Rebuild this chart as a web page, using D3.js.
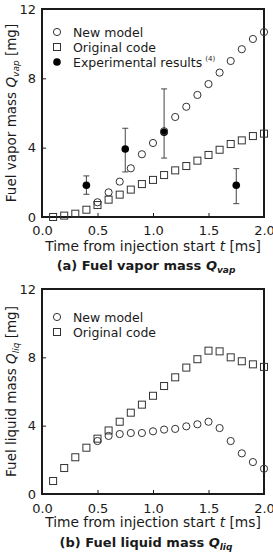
<!DOCTYPE html>
<html>
<head>
<meta charset="utf-8">
<script src="https://cdn.jsdelivr.net/npm/d3@7"></script>
<style>
  body { margin: 0; background: #fff; }
  svg text { font-family: "DejaVu Sans", sans-serif; fill: #1a1a1a; }
</style>
</head>
<body>
<div id="chart"></div>
<script>
// data
const times = [0.1, 0.2, 0.3, 0.4, 0.5, 0.6, 0.7, 0.8, 0.9, 1.0, 1.1, 1.2, 1.3, 1.4, 1.5, 1.6, 1.7, 1.8, 1.9, 2.0]
const vaporOriginal = [0.0, 0.08, 0.19, 0.42, 0.69, 1.0, 1.29, 1.58, 1.9, 2.14, 2.42, 2.69, 2.94, 3.25, 3.58, 3.88, 4.21, 4.42, 4.67, 4.81]
const vaporNew = [null, null, null, null, 0.85, 1.42, 2.04, 2.81, 3.62, 4.27, 4.95, 5.77, 6.36, 7.04, 7.67, 8.33, 9.0, 9.68, 10.27, 10.67]
const expTimes = [0.4, 0.75, 1.1, 1.75]
const expValues = [1.83, 3.92, 4.89, 1.83]
const expLow = [1.31, 2.6, 3.4, 0.77]
const expHigh = [2.37, 5.12, 7.39, 2.79]
const liquidOriginal = [0.76, 1.52, 2.15, 2.71, 3.24, 3.72, 4.23, 4.76, 5.23, 5.75, 6.32, 6.83, 7.4, 7.89, 8.39, 8.35, 8.0, 7.77, 7.59, 7.44]
const liquidNew = [null, null, null, null, 3.1, 3.4, 3.51, 3.57, 3.57, 3.67, 3.77, 3.81, 3.96, 4.08, 4.23, 3.86, 3.1, 2.38, 1.87, 1.48]
const xTicks = [0, 0.5, 1.0, 1.5, 2.0]
const yTicks = [0, 4, 8, 12]

const width = 273
const height = 557
const ink = "#1a1a1a"
const markInk = "#333"

let svg = d3.select('div#chart').append('svg').attr('width', width).attr('height', height)
svg.append('rect').attr('width', width).attr('height', height).attr('fill', '#fff')

function drawPanel(p) {
    let g = svg.append('g').attr('id', p.id)
    let x = d3.scaleLinear().domain([0, 2]).range([p.left, p.right])
    let y = d3.scaleLinear().domain([0, 12]).range([p.bottom, p.top])

    let xAxis = d3.axisBottom(x).tickValues(xTicks).tickFormat(d3.format('.1f'))
        .tickSizeInner(-4).tickSizeOuter(0).tickPadding(p.xPad)
    let yAxis = d3.axisLeft(y).tickValues(yTicks).tickFormat(d3.format('d'))
        .tickSizeInner(-4).tickSizeOuter(0).tickPadding(6)

    let xg = g.append('g').attr('transform', `translate(0, ${p.bottom})`).call(xAxis)
    let yg = g.append('g').attr('transform', `translate(${p.left}, 0)`).call(yAxis)
    for (let ag of [xg, yg]) {
        ag.select('.domain').remove()
        ag.selectAll('line').attr('stroke', ink)
        ag.selectAll('text').attr('font-size', 13).attr('font-family', '"DejaVu Sans", sans-serif').attr('fill', ink)
    }

    // frame
    g.append('rect')
        .attr('x', p.left).attr('y', p.top)
        .attr('width', p.right - p.left).attr('height', p.bottom - p.top)
        .attr('fill', 'none').attr('stroke', ink).attr('stroke-width', 2)

    // experimental points with error bars
    if (p.exp) {
        let eg = g.append('g')
        expTimes.forEach((t, i) => {
            let cx = x(t)
            eg.append('line').attr('x1', cx).attr('x2', cx).attr('y1', y(expLow[i])).attr('y2', y(expHigh[i]))
                .attr('stroke', '#444').attr('stroke-width', 1)
            for (let v of [expLow[i], expHigh[i]]) {
                eg.append('line').attr('x1', cx - 3).attr('x2', cx + 3).attr('y1', y(v)).attr('y2', y(v))
                    .attr('stroke', '#444').attr('stroke-width', 1)
            }
        })
        eg.selectAll('circle').data(expTimes).join('circle')
            .attr('cx', d => x(d)).attr('cy', (d, i) => y(expValues[i]))
            .attr('r', 3.8).attr('fill', '#000')
    }

    // original code: squares
    g.append('g').selectAll('rect').data(times).join('rect')
        .attr('x', d => x(d) - 3.5)
        .attr('y', (d, i) => y(p.original[i]) - 3.5)
        .attr('width', 7).attr('height', 7)
        .attr('fill', 'none').attr('stroke', markInk).attr('stroke-width', 1)

    // new model: circles
    let newPts = times.map((t, i) => [t, p.newModel[i]]).filter(d => d[1] != null)
    g.append('g').selectAll('circle').data(newPts).join('circle')
        .attr('cx', d => x(d[0])).attr('cy', d => y(d[1]))
        .attr('r', 3.6)
        .attr('fill', 'none').attr('stroke', markInk).attr('stroke-width', 1)

    // legend
    let lg = g.append('g')
    let rows = p.exp ? ['New model', 'Original code', 'Experimental results'] : ['New model', 'Original code']
    rows.forEach((label, i) => {
        let cy = p.legendY + i * 15
        if (i == 0) lg.append('circle').attr('cx', 57).attr('cy', cy).attr('r', 3.6).attr('fill', 'none').attr('stroke', markInk)
        if (i == 1) lg.append('rect').attr('x', 53.5).attr('y', cy - 3.5).attr('width', 7).attr('height', 7).attr('fill', 'none').attr('stroke', markInk)
        if (i == 2) lg.append('circle').attr('cx', 57).attr('cy', cy).attr('r', 3.8).attr('fill', '#000')
        let t = lg.append('text').attr('x', 73).attr('y', cy + 4.5).attr('font-size', 12.5).text(label)
        if (i == 2) t.append('tspan').attr('font-size', 7).attr('dy', -6).attr('dx', 3).text('(4)')
    })

    // y title
    let yt = g.append('text')
        .attr('transform', `translate(${p.yTitleX}, ${(p.top + p.bottom) / 2}) rotate(-90)`)
        .attr('text-anchor', 'middle').attr('font-size', 13.5)
    yt.append('tspan').text(p.yTitle + ' ')
    yt.append('tspan').attr('font-style', 'italic').text('Q')
    yt.append('tspan').attr('font-style', 'italic').attr('font-size', 9).attr('dy', 3).text(p.sub)
    yt.append('tspan').attr('dy', -3).text(' [mg]')

    // x title
    let xt = g.append('text').attr('x', 153).attr('y', p.xTitleY).attr('text-anchor', 'middle').attr('font-size', 13.8)
    xt.append('tspan').text('Time from injection start ')
    xt.append('tspan').attr('font-style', 'italic').text('t')
    xt.append('tspan').text(' [ms]')

    // caption
    let cp = g.append('text').attr('x', p.captionX).attr('y', p.captionY).attr('text-anchor', 'middle')
        .attr('font-size', 13).attr('font-weight', 'bold')
    cp.append('tspan').text(p.caption + ' ')
    cp.append('tspan').attr('font-style', 'italic').text('Q')
    cp.append('tspan').attr('font-style', 'italic').attr('font-size', 9).attr('dy', 3).text(p.sub)
}

drawPanel({
    id: 'vapor', left: 42, right: 264, top: 9, bottom: 217, xPad: 9,
    original: vaporOriginal, newModel: vaporNew, exp: true,
    legendY: 32, yTitle: 'Fuel vapor mass', sub: 'vap', yTitleX: 16,
    xTitleY: 251, caption: '(a) Fuel vapor mass', captionX: 146, captionY: 270
})
drawPanel({
    id: 'liquid', left: 42, right: 264, top: 289, bottom: 494, xPad: 10,
    original: liquidOriginal, newModel: liquidNew, exp: false,
    legendY: 317, yTitle: 'Fuel liquid mass', sub: 'liq', yTitleX: 16,
    xTitleY: 527, caption: '(b) Fuel liquid mass', captionX: 146, captionY: 547
})
</script>
</body>
</html>
